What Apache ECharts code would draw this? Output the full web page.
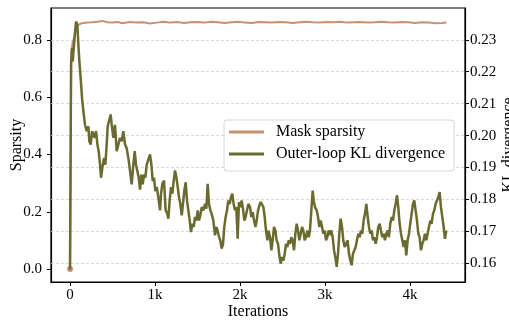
<!DOCTYPE html>
<html>
<head>
<meta charset="utf-8">
<script src="https://cdn.jsdelivr.net/npm/echarts@6/dist/echarts.min.js"></script>
<style>
  html, body { margin: 0; padding: 0; background: #fff; }
  #main { width: 509px; height: 325px; }
</style>
</head>
<body>
<div id="main"></div>
<script>
// tick labels
const xTicks = [0, 1000, 2000, 3000, 4000];
const sparsityTicks = [0, 0.2, 0.4, 0.6, 0.8];
const klTicks = [0.16, 0.17, 0.18, 0.19, 0.20, 0.21, 0.22, 0.23];

// [iteration, mask sparsity]
const maskSparsity = [
  [0, 0], [15, 0.76], [30, 0.79], [50, 0.81], [70, 0.835], [90, 0.850], [120, 0.856],
  [160, 0.859], [200, 0.860], [260, 0.861], [320, 0.863], [380, 0.866], [440, 0.861],
  [500, 0.860], [560, 0.862], [620, 0.858], [700, 0.862], [780, 0.860], [860, 0.861],
  [940, 0.857], [1020, 0.860], [1100, 0.863], [1180, 0.860], [1260, 0.862], [1340, 0.859],
  [1420, 0.861], [1500, 0.862], [1580, 0.860], [1660, 0.863], [1740, 0.861], [1820, 0.859],
  [1900, 0.861], [1980, 0.863], [2060, 0.860], [2140, 0.859], [2220, 0.862], [2300, 0.861],
  [2380, 0.860], [2460, 0.862], [2540, 0.861], [2620, 0.859], [2700, 0.861], [2780, 0.863],
  [2860, 0.861], [2940, 0.860], [3020, 0.862], [3100, 0.861], [3180, 0.863], [3260, 0.860],
  [3340, 0.861], [3420, 0.862], [3500, 0.860], [3580, 0.861], [3660, 0.863], [3740, 0.861],
  [3820, 0.860], [3900, 0.862], [3980, 0.861], [4060, 0.859], [4140, 0.861], [4220, 0.860],
  [4300, 0.858], [4380, 0.859], [4430, 0.860]
];

// [iteration, outer-loop KL divergence]
const klDivergence = [
  [0, 0.1581], [12, 0.2222], [24, 0.2274], [31, 0.2232], [47, 0.2284], [59, 0.2326],
  [71, 0.2357], [86, 0.2347], [98, 0.2284], [110, 0.2232], [125, 0.2180], [141, 0.2118],
  [157, 0.2076], [176, 0.2034], [196, 0.2014], [216, 0.2029], [227, 0.1982], [243, 0.1972],
  [259, 0.2014], [275, 0.2019], [290, 0.1993], [306, 0.2014], [322, 0.1972], [337, 0.1951],
  [353, 0.1909], [365, 0.1868], [380, 0.1899], [400, 0.1930], [416, 0.1909], [431, 0.1972],
  [443, 0.2029], [459, 0.2024], [478, 0.2066], [490, 0.2034], [510, 0.1993], [529, 0.2034],
  [549, 0.1951], [569, 0.1972], [588, 0.1993], [608, 0.1982], [627, 0.2014], [647, 0.1972],
  [666, 0.1961], [686, 0.1930], [706, 0.1889], [725, 0.1847], [745, 0.1909], [761, 0.1951],
  [776, 0.1909], [792, 0.1889], [808, 0.1868], [824, 0.1831], [839, 0.1878], [855, 0.1847],
  [871, 0.1878], [886, 0.1868], [902, 0.1909], [922, 0.1915], [941, 0.1941], [957, 0.1909],
  [973, 0.1857], [988, 0.1868], [1004, 0.1826], [1020, 0.1839], [1039, 0.1807], [1059, 0.1766],
  [1071, 0.1818], [1086, 0.1849], [1106, 0.1859], [1125, 0.1766], [1145, 0.1755], [1157, 0.1740],
  [1172, 0.1797], [1188, 0.1839], [1204, 0.1818], [1220, 0.1859], [1235, 0.1891], [1251, 0.1870],
  [1267, 0.1839], [1282, 0.1807], [1298, 0.1786], [1314, 0.1750], [1329, 0.1786], [1345, 0.1828],
  [1361, 0.1854], [1376, 0.1797], [1392, 0.1766], [1408, 0.1734], [1423, 0.1698], [1439, 0.1724],
  [1455, 0.1714], [1470, 0.1745], [1486, 0.1734], [1502, 0.1766], [1517, 0.1734], [1533, 0.1750],
  [1549, 0.1776], [1568, 0.1766], [1588, 0.1786], [1604, 0.1771], [1619, 0.1849], [1635, 0.1786],
  [1651, 0.1766], [1666, 0.1755], [1686, 0.1734], [1706, 0.1688], [1721, 0.1714], [1737, 0.1703],
  [1753, 0.1682], [1768, 0.1672], [1784, 0.1646], [1800, 0.1661], [1815, 0.1714], [1831, 0.1745],
  [1847, 0.1766], [1862, 0.1797], [1878, 0.1786], [1894, 0.1807], [1909, 0.1818], [1925, 0.1786],
  [1941, 0.1766], [1956, 0.1776], [1972, 0.1677], [1988, 0.1792], [2004, 0.1776], [2019, 0.1797],
  [2035, 0.1771], [2051, 0.1734], [2066, 0.1745], [2082, 0.1766], [2098, 0.1786], [2118, 0.1776],
  [2133, 0.1745], [2149, 0.1760], [2165, 0.1734], [2181, 0.1714], [2196, 0.1734], [2212, 0.1766],
  [2228, 0.1781], [2243, 0.1792], [2259, 0.1797], [2275, 0.1776], [2290, 0.1745], [2306, 0.1702],
  [2322, 0.1672], [2337, 0.1702], [2353, 0.1682], [2369, 0.1641], [2384, 0.1672], [2400, 0.1714],
  [2416, 0.1703], [2431, 0.1672], [2447, 0.1661], [2463, 0.1625], [2478, 0.1599], [2494, 0.1620],
  [2510, 0.1609], [2526, 0.1630], [2541, 0.1661], [2557, 0.1651], [2573, 0.1672], [2588, 0.1661],
  [2604, 0.1682], [2620, 0.1672], [2635, 0.1641], [2651, 0.1693], [2667, 0.1724], [2682, 0.1703],
  [2698, 0.1672], [2714, 0.1693], [2729, 0.1714], [2745, 0.1703], [2761, 0.1672], [2776, 0.1682],
  [2792, 0.1703], [2808, 0.1682], [2823, 0.1703], [2839, 0.1766], [2855, 0.1828], [2867, 0.1797],
  [2882, 0.1776], [2902, 0.1766], [2918, 0.1745], [2933, 0.1714], [2949, 0.1734], [2965, 0.1714],
  [2980, 0.1693], [2996, 0.1703], [3012, 0.1672], [3027, 0.1682], [3043, 0.1703], [3059, 0.1688],
  [3074, 0.1703], [3090, 0.1682], [3106, 0.1641], [3121, 0.1620], [3137, 0.1589], [3153, 0.1630],
  [3168, 0.1693], [3184, 0.1740], [3200, 0.1714], [3215, 0.1672], [3231, 0.1651], [3251, 0.1651],
  [3266, 0.1672], [3282, 0.1630], [3298, 0.1609], [3313, 0.1594], [3329, 0.1630], [3345, 0.1641],
  [3360, 0.1651], [3376, 0.1672], [3392, 0.1693], [3407, 0.1682], [3423, 0.1703], [3439, 0.1693],
  [3454, 0.1734], [3470, 0.1755], [3486, 0.1786], [3502, 0.1745], [3517, 0.1714], [3533, 0.1693],
  [3549, 0.1703], [3564, 0.1672], [3580, 0.1682], [3596, 0.1661], [3611, 0.1682], [3627, 0.1714],
  [3643, 0.1724], [3658, 0.1703], [3674, 0.1682], [3690, 0.1693], [3705, 0.1672], [3721, 0.1693],
  [3737, 0.1703], [3752, 0.1682], [3768, 0.1724], [3784, 0.1745], [3800, 0.1734], [3815, 0.1766],
  [3831, 0.1786], [3847, 0.1813], [3862, 0.1776], [3878, 0.1724], [3894, 0.1693], [3909, 0.1672],
  [3925, 0.1651], [3941, 0.1672], [3956, 0.1625], [3972, 0.1672], [3988, 0.1693], [4003, 0.1724],
  [4019, 0.1755], [4035, 0.1786], [4050, 0.1797], [4066, 0.1766], [4082, 0.1734], [4098, 0.1693],
  [4113, 0.1682], [4129, 0.1641], [4145, 0.1661], [4160, 0.1672], [4176, 0.1693], [4192, 0.1672],
  [4207, 0.1693], [4223, 0.1714], [4239, 0.1734], [4254, 0.1724], [4270, 0.1755], [4286, 0.1766],
  [4301, 0.1786], [4317, 0.1797], [4333, 0.1807], [4348, 0.1823], [4364, 0.1776], [4380, 0.1745],
  [4396, 0.1714], [4411, 0.1677], [4427, 0.1703]
];

const font = '"Liberation Serif", "DejaVu Serif", serif';
const textStyle = { fontFamily: font, fontSize: 16, color: '#000' };
const tickStyle = { fontFamily: font, fontSize: 15, color: '#000' };

var myChart = echarts.init(document.getElementById('main'), null, { renderer: 'canvas' });

var option = {
  animation: false,
  backgroundColor: '#fff',
  grid: {
    left: 51, right: 44, top: 8, bottom: 43,
    outerBoundsMode: 'none',
    containLabel: false,
    show: true, borderColor: '#000', borderWidth: 1.2, backgroundColor: 'transparent'
  },
  legend: {
    orient: 'vertical',
    left: 224, top: 120,
    data: ['Mask sparsity', 'Outer-loop KL divergence'],
    icon: 'rect',
    itemWidth: 35, itemHeight: 3, itemGap: 4,
    backgroundColor: '#fff',
    borderColor: '#d6d6d6', borderWidth: 1, borderRadius: 3,
    padding: [3, 9, 8, 5],
    textStyle: Object.assign({}, textStyle, { lineHeight: 18, padding: [0, 0, 0, 7] })
  },
  xAxis: {
    type: 'value',
    min: -224, max: 4647,
    name: 'Iterations',
    nameLocation: 'middle',
    nameGap: 22,
    nameMoveOverlap: false,
    nameTextStyle: textStyle,
    axisLine: { show: true, onZero: false, lineStyle: { color: '#000', width: 1.2 } },
    axisTick: { show: true, length: 4, customValues: xTicks, lineStyle: { color: '#000' } },
    axisLabel: Object.assign({}, tickStyle, {
      margin: 6,
      customValues: xTicks,
      formatter: v => v === 0 ? '0' : (v / 1000) + 'k'
    }),
    splitLine: { show: false }
  },
  yAxis: [
    {
      type: 'value',
      position: 'left',
      min: -0.045, max: 0.911,
      name: 'Sparsity',
      nameLocation: 'middle',
      nameGap: 26,
      nameRotate: 90,
      nameMoveOverlap: false,
      nameTextStyle: textStyle,
      axisLine: { show: true, onZero: false, lineStyle: { color: '#000', width: 1.2 } },
      axisTick: { show: true, length: 4, customValues: sparsityTicks, lineStyle: { color: '#000' } },
      axisLabel: Object.assign({}, tickStyle, {
        margin: 9,
        customValues: sparsityTicks,
        formatter: v => v.toFixed(1)
      }),
      splitLine: { show: false }
    },
    {
      type: 'value',
      position: 'right',
      min: 0.15416, max: 0.23994,
      name: 'KL divergence',
      nameLocation: 'middle',
      nameGap: 36,
      nameRotate: 90,
      nameMoveOverlap: false,
      nameTextStyle: textStyle,
      axisLine: { show: true, onZero: false, lineStyle: { color: '#000', width: 1.2 } },
      axisTick: { show: true, length: 4, customValues: klTicks, lineStyle: { color: '#000' } },
      axisLabel: Object.assign({}, tickStyle, {
        margin: 5,
        customValues: klTicks,
        formatter: v => v.toFixed(2)
      }),
      splitLine: { show: false }
    }
  ],
  series: [
    {
      name: 'Mask sparsity',
      type: 'line',
      yAxisIndex: 0,
      data: maskSparsity,
      color: '#c8916f',
      lineStyle: { width: 2 },
      symbol: 'circle',
      showSymbol: true,
      symbolSize: (v, p) => p.dataIndex === 0 ? 6 : 0,
      z: 2
    },
    {
      name: 'Outer-loop KL divergence',
      type: 'line',
      yAxisIndex: 1,
      data: klDivergence,
      color: '#6b6a2f',
      lineStyle: { width: 2.5 },
      showSymbol: false,
      z: 3,
      markLine: {
        silent: true,
        z: 1,
        symbol: ['none', 'none'],
        label: { show: false },
        lineStyle: { color: '#d0d0d0', type: [3, 2], width: 0.8 },
        data: klTicks.map(v => ({ yAxis: v }))
      }
    }
  ]
};

option && myChart.setOption(option);
</script>
</body>
</html>
